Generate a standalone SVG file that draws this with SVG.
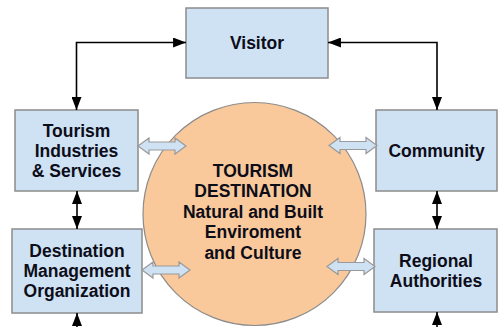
<svg xmlns="http://www.w3.org/2000/svg" width="498" height="327" viewBox="0 0 498 327">
  <style>
    .box { fill: #cfe2f3; stroke: #8c8c8c; stroke-width: 1.5; }
    .hub { fill: #f9c99b; stroke: #8c8c8c; stroke-width: 1.2; }
    .lbl { font-family: "Liberation Sans", Arial, sans-serif; font-weight: bold; font-size: 17.5px; fill: #0d0d1a; text-anchor: middle; }
    .link { fill: none; stroke: #000; stroke-width: 1.6; }
    .fat { fill: #cfe2f3; stroke: #9a9a9a; stroke-width: 1.2; stroke-linejoin: miter; }
  </style>
  <defs>
    <marker id="tip" viewBox="0 0 13 10" refX="13" refY="5" markerWidth="8.1" markerHeight="6.25" orient="auto-start-reverse" markerUnits="strokeWidth">
      <path d="M0,0 L13,5 L0,10 Z" fill="#000"/>
    </marker>
    <!-- double-headed block arrow, 48 wide, centred on y=0 -->
    <path id="dbl" d="M0,0 L11,-8 L11,-4 L37,-4 L37,-8 L48,0 L37,8 L37,4 L11,4 L11,8 Z"/>
  </defs>

  <!-- central destination -->
  <g id="destination">
    <circle class="hub" cx="254.5" cy="214" r="111.5"/>
    <text class="lbl" x="253" y="177">TOURISM</text>
    <text class="lbl" x="253" y="197">DESTINATION</text>
    <text class="lbl" x="253" y="218">Natural and Built</text>
    <text class="lbl" x="253" y="238">Enviroment</text>
    <text class="lbl" x="253" y="259">and Culture</text>
  </g>

  <g id="visitor">
    <rect class="box" x="186" y="8" width="142" height="70"/>
    <text class="lbl" x="257" y="49">Visitor</text>
  </g>

  <g id="industries">
    <rect class="box" x="15" y="110" width="123" height="81"/>
    <text class="lbl" x="76.5" y="137">Tourism</text>
    <text class="lbl" x="76.5" y="157">Industries</text>
    <text class="lbl" x="76.5" y="177">&amp; Services</text>
  </g>

  <g id="dmo">
    <rect class="box" x="12" y="229" width="130" height="84"/>
    <text class="lbl" x="77" y="257">Destination</text>
    <text class="lbl" x="77" y="277">Management</text>
    <text class="lbl" x="77" y="297">Organization</text>
  </g>

  <g id="community">
    <rect class="box" x="376" y="110" width="121" height="81"/>
    <text class="lbl" x="436.5" y="157">Community</text>
  </g>

  <g id="regional">
    <rect class="box" x="374" y="229" width="123" height="83"/>
    <text class="lbl" x="436" y="267">Regional</text>
    <text class="lbl" x="436" y="287">Authorities</text>
  </g>

  <g id="connectors">
    <path class="link" d="M186,42.5 H76.5 V110" marker-start="url(#tip)" marker-end="url(#tip)"/>
    <path class="link" d="M328,42.5 H437 V110" marker-start="url(#tip)" marker-end="url(#tip)"/>
    <path class="link" d="M77,191 V229" marker-start="url(#tip)" marker-end="url(#tip)"/>
    <path class="link" d="M437,191 V229" marker-start="url(#tip)" marker-end="url(#tip)"/>
    <path class="link" d="M77,330 V313" marker-end="url(#tip)"/>
    <path class="link" d="M437,330 V312" marker-end="url(#tip)"/>

    <use href="#dbl" class="fat" transform="translate(138,146)"/>
    <use href="#dbl" class="fat" transform="translate(329,145.5)"/>
    <use href="#dbl" class="fat" transform="translate(142,270)"/>
    <use href="#dbl" class="fat" transform="translate(327,266.5)"/>
  </g>
</svg>
